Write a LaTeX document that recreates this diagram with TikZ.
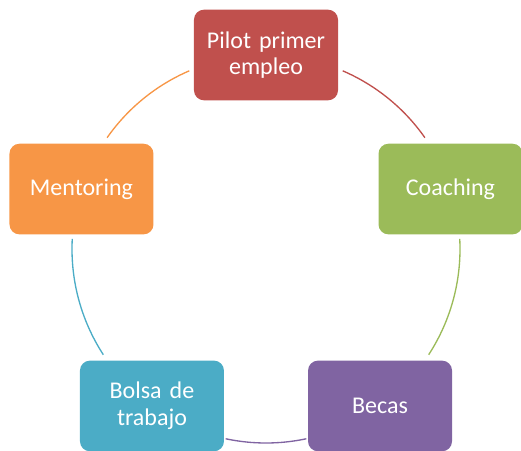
\documentclass[tikz,border=0pt]{standalone}
\usepackage{fontspec}
\setmainfont{Carlito}
\definecolor{pilotred}{HTML}{C0504D}
\definecolor{coachgreen}{HTML}{9BBB59}
\definecolor{becaspurple}{HTML}{8064A2}
\definecolor{bolsateal}{HTML}{4BACC6}
\definecolor{mentorange}{HTML}{F79646}
\tikzset{
	cyclebox/.style={rounded corners=7.5pt, minimum width=108pt, minimum height=68pt, text width=100pt, align=center, text=white, font=\fontsize{18}{20}\selectfont, inner sep=0pt},
	cyclearc/.style={line width=1pt}
}
\begin{document}
\begin{tikzpicture}
			\useasboundingbox (-199.5pt,-150.75pt) rectangle (191.25pt,186.75pt); % canvas
			% ring radius = 194px = 145.5pt

			\node[cyclebox, fill=pilotred] (pilot) at (90:145.5pt) {Pilot primer\\empleo};
			\node[cyclebox, fill=coachgreen] (coaching) at (18:145.5pt) {Coaching};
			\node[cyclebox, fill=becaspurple] (becas) at (-54:145.5pt) {Becas};
			\node[cyclebox, fill=bolsateal] (bolsa) at (-126:145.5pt) {Bolsa de\\trabajo};
			\node[cyclebox, fill=mentorange] (mentoring) at (162:145.5pt) {Mentoring};

			\coordinate (pilotout) at (66.7:145.5pt);
			\coordinate (coachout) at (3:145.5pt);
			\coordinate (becasout) at (-78:145.5pt);
			\coordinate (bolsaout) at (213:145.5pt);
			\coordinate (mentorout) at (145:145.5pt);

			\draw[cyclearc, pilotred] (pilotout) arc[start angle=66.7, end angle=35, radius=145.5pt]; % pilot -> coaching
			\draw[cyclearc, coachgreen] (coachout) arc[start angle=3, end angle=-33, radius=145.5pt]; % coaching -> becas
			\draw[cyclearc, becaspurple] (becasout) arc[start angle=-78, end angle=-102, radius=145.5pt]; % becas -> bolsa
			\draw[cyclearc, bolsateal] (bolsaout) arc[start angle=213, end angle=177, radius=145.5pt]; % bolsa -> mentoring
			\draw[cyclearc, mentorange] (mentorout) arc[start angle=145, end angle=113.3, radius=145.5pt]; % mentoring -> pilot
\end{tikzpicture}
\end{document}
